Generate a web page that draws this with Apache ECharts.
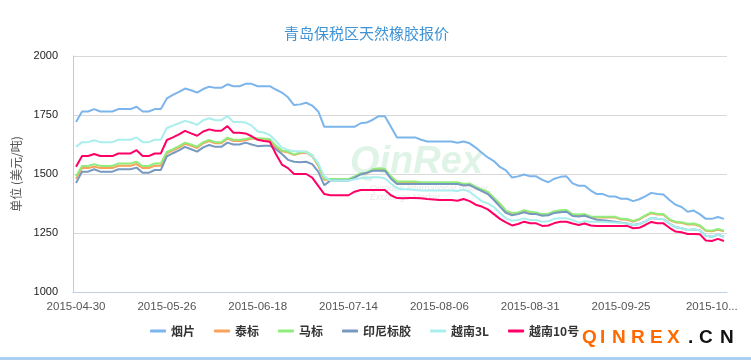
<!DOCTYPE html>
<html><head><meta charset="utf-8">
<script src="https://cdn.jsdelivr.net/npm/echarts@6/dist/echarts.min.js"></script>
<style>html,body{margin:0;padding:0;background:#fff}#c{width:751px;height:360px}</style>
</head><body><div id="c"></div>
<script>
const titleText = '青岛保税区天然橡胶报价';
const yAxisName = '单位 (美元/吨)';
const seriesNames = ['烟片','泰标','马标','印尼标胶','越南3L','越南10号'];
const seriesColors = ['#7cb5ec','#f7a35c','#90ed7d','#7798bf','#aaeeee','#ff0066'];
const yTicks = [1000, 2000, 250];

const dates = [
'2015-04-30','2015-05-04','2015-05-05','2015-05-06','2015-05-07','2015-05-08','2015-05-11','2015-05-12','2015-05-13','2015-05-14',
'2015-05-15','2015-05-18','2015-05-19','2015-05-20','2015-05-22','2015-05-26','2015-05-27','2015-05-28','2015-05-29','2015-06-01',
'2015-06-02','2015-06-03','2015-06-04','2015-06-05','2015-06-08','2015-06-09','2015-06-10','2015-06-11','2015-06-15','2015-06-16',
'2015-06-18','2015-06-19','2015-06-23','2015-06-24','2015-06-25','2015-06-26','2015-06-29','2015-06-30','2015-07-01','2015-07-02',
'2015-07-03','2015-07-06','2015-07-07','2015-07-08','2015-07-10','2015-07-14','2015-07-15','2015-07-16','2015-07-17','2015-07-20',
'2015-07-21','2015-07-22','2015-07-23','2015-07-24','2015-07-27','2015-07-28','2015-07-29','2015-07-30','2015-08-03','2015-08-04',
'2015-08-06','2015-08-07','2015-08-10','2015-08-11','2015-08-12','2015-08-13','2015-08-14','2015-08-17','2015-08-18','2015-08-19',
'2015-08-20','2015-08-24','2015-08-25','2015-08-26','2015-08-28','2015-08-31','2015-09-01','2015-09-02','2015-09-07','2015-09-08',
'2015-09-09','2015-09-10','2015-09-11','2015-09-14','2015-09-15','2015-09-16','2015-09-17','2015-09-21','2015-09-22','2015-09-24',
'2015-09-25','2015-09-28','2015-09-29','2015-09-30','2015-10-08','2015-10-09','2015-10-12','2015-10-13','2015-10-14','2015-10-15',
'2015-10-16','2015-10-19','2015-10-20','2015-10-21','2015-10-22','2015-10-23','2015-10-26','2015-10-27'];

const yanpian = [
1720,1765,1765,1775,1765,1765,1765,1775,1775,1775,
1785,1765,1765,1775,1775,1820,1835,1848,1862,1855,
1845,1860,1870,1865,1865,1880,1872,1872,1882,1882,
1872,1872,1872,1858,1845,1825,1792,1795,1802,1790,
1765,1700,1700,1700,1700,1700,1700,1715,1718,1730,
1745,1745,1700,1655,1655,1655,1655,1645,1638,1638,
1638,1638,1638,1632,1638,1630,1612,1590,1570,1555,
1530,1515,1485,1490,1498,1490,1490,1475,1465,1480,
1488,1490,1460,1450,1450,1430,1415,1415,1405,1405,
1395,1395,1385,1393,1405,1420,1415,1413,1390,1370,
1360,1340,1345,1330,1310,1310,1318,1310];

const taibiao = [
1480,1525,1525,1532,1525,1525,1525,1535,1535,1535,
1542,1525,1525,1535,1535,1588,1600,1612,1628,1620,
1610,1630,1640,1630,1630,1650,1640,1640,1643,1650,
1648,1646,1644,1612,1596,1592,1580,1588,1590,1575,
1535,1476,1476,1476,1476,1476,1488,1500,1503,1518,
1520,1518,1486,1465,1465,1465,1465,1462,1462,1462,
1462,1462,1462,1462,1455,1457,1442,1432,1422,1397,
1372,1342,1332,1334,1344,1337,1334,1327,1329,1339,
1343,1344,1327,1325,1327,1317,1316,1316,1316,1316,
1307,1306,1298,1307,1322,1334,1328,1327,1305,1295,
1293,1286,1287,1280,1259,1257,1264,1257];

const mabiao = [
1490,1534,1534,1542,1534,1534,1534,1545,1545,1545,
1552,1534,1534,1545,1545,1594,1605,1618,1633,1625,
1616,1635,1644,1635,1635,1654,1645,1645,1648,1654,
1652,1650,1648,1620,1600,1596,1582,1592,1595,1580,
1540,1480,1479,1479,1479,1479,1490,1502,1505,1520,
1524,1522,1490,1468,1468,1468,1468,1465,1465,1465,
1465,1465,1465,1465,1458,1460,1445,1435,1425,1400,
1375,1345,1335,1337,1347,1340,1337,1330,1332,1342,
1346,1347,1330,1328,1330,1320,1319,1319,1319,1319,
1310,1309,1301,1310,1325,1337,1331,1330,1308,1298,
1296,1289,1290,1283,1262,1260,1267,1260];

const yinni = [
1462,1510,1510,1520,1510,1510,1510,1520,1520,1520,
1527,1505,1505,1517,1517,1575,1588,1600,1615,1605,
1595,1613,1623,1615,1615,1633,1625,1625,1633,1625,
1618,1620,1620,1605,1585,1560,1552,1550,1552,1542,
1510,1452,1472,1472,1472,1472,1485,1498,1505,1514,
1514,1514,1480,1458,1458,1458,1458,1458,1458,1458,
1458,1458,1458,1458,1451,1453,1440,1428,1415,1390,
1362,1335,1325,1330,1338,1330,1330,1323,1325,1335,
1338,1340,1322,1320,1323,1314,1306,1304,1301,1298,
1294,1290,1284,1288,1298,1314,1310,1309,1290,1275,
1270,1263,1265,1262,1238,1234,1243,1234];

const yuenan3L = [
1615,1635,1635,1643,1635,1635,1635,1645,1645,1645,
1655,1635,1635,1645,1645,1695,1705,1715,1725,1718,
1708,1728,1736,1728,1728,1746,1720,1720,1718,1705,
1680,1676,1665,1640,1612,1602,1596,1596,1593,1578,
1545,1490,1472,1472,1472,1472,1478,1482,1484,1486,
1486,1482,1460,1440,1435,1435,1432,1430,1430,1430,
1430,1430,1430,1428,1434,1425,1405,1385,1375,1360,
1335,1312,1302,1305,1312,1305,1305,1298,1300,1310,
1312,1312,1305,1294,1300,1298,1298,1298,1296,1294,
1292,1290,1284,1288,1298,1314,1310,1309,1290,1275,
1270,1263,1265,1262,1238,1234,1243,1234];

const yuenan10 = [
1531,1576,1576,1585,1576,1576,1576,1587,1587,1587,
1601,1576,1576,1587,1587,1644,1655,1668,1683,1672,
1662,1680,1689,1683,1683,1703,1675,1675,1672,1660,
1645,1640,1637,1585,1540,1525,1500,1500,1500,1485,
1450,1415,1410,1410,1410,1410,1425,1432,1432,1432,
1432,1432,1410,1398,1397,1398,1398,1397,1394,1392,
1390,1390,1390,1387,1394,1385,1370,1362,1350,1330,
1310,1295,1282,1288,1298,1291,1291,1280,1282,1292,
1298,1298,1290,1284,1290,1282,1280,1280,1280,1280,
1280,1280,1270,1272,1284,1297,1291,1291,1272,1256,
1253,1246,1246,1245,1218,1216,1225,1216];

const allSeries = [yanpian, taibiao, mabiao, yinni, yuenan3L, yuenan10];

const chart = echarts.init(document.getElementById('c'), null, {renderer:'canvas'});
const logoLetters = ['Q','I','N','R','E','X','.','C','N'];
const logoX = [582,600,612,631,650,667,688,699,720];
const logoGraphics = logoLetters.map((ch, k) => ({
  type:'text', left: logoX[k], top: 328,
  style:{ text: ch, fill: k < 6 ? '#ff6a00' : '#111', font: 'bold 19px "Liberation Sans", Arial, sans-serif' }
}));

chart.setOption({
  animation:false,
  backgroundColor:'#fff',
  color: seriesColors,
  title:{ text: titleText, left: 279, top: 21,
    textStyle:{ color:'#3d93d6', fontSize:15, fontWeight:'normal', fontFamily:'"Noto Sans CJK SC", sans-serif' } },
  legend:{ left:145, top:320, itemWidth:16, itemHeight:3, itemGap:19, icon:'roundRect',
    textStyle:{ color:'#333', fontSize:12, fontWeight:'bold', fontFamily:'"Noto Sans CJK SC", sans-serif' },
    data: seriesNames },
  grid:{ left:73, right:24, top:56, bottom:68, containLabel:false, outerBoundsMode:'none' },
  xAxis:{ type:'category', data: dates, boundaryGap:true,
    axisLine:{ lineStyle:{ color:'#c0d0e0', width:1 } },
    axisTick:{ alignWithLabel:true, interval:14, length:6, lineStyle:{ color:'#c0d0e0' } },
    axisLabel:{ interval:14, color:'#555', fontSize:11.5, margin:9, fontFamily:'"Liberation Sans", Arial, sans-serif',
      formatter:(v, idx) => idx >= 100 ? v.slice(0,7) + '...' : v },
    splitLine:{ show:false } },
  yAxis:{ type:'value', min: yTicks[0], max: yTicks[1], interval: yTicks[2],
    name: yAxisName, nameLocation:'middle', nameGap:44, nameRotate:90,
    nameTextStyle:{ color:'#555', fontSize:12, fontFamily:'"Noto Sans CJK SC", sans-serif' },
    axisLine:{ show:true, lineStyle:{ color:'#c8c8c8' } },
    axisTick:{ show:false },
    axisLabel:{ color:'#222', fontSize:11, margin:15, fontFamily:'"Liberation Sans", Arial, sans-serif',
      formatter:(v) => String(v) },
    splitLine:{ lineStyle:{ color:'#d8d8d8' } } },
  series: seriesNames.map((n, k) => ({
    name:n, type:'line', data: allSeries[k], symbol:'none', showSymbol:false,
    lineStyle:{ width:2, color: seriesColors[k] }, itemStyle:{ color: seriesColors[k] }
  })),
  graphic: [
    { type:'text', left: 350, top: 144, z: -1,
      style:{ text:'QinRex', fill:'rgba(140,215,165,0.28)', font:'italic bold 38px "Liberation Sans", Arial, sans-serif' } },
    { type:'text', left: 370, top: 184, z: -1,
      style:{ text:'Qingdao International Rubber\nExchange Market', fill:'rgba(160,160,160,0.25)', font:'italic 9px "Liberation Sans", Arial, sans-serif' } },
    { type:'rect', left:0, top:357, shape:{ width:751, height:3 }, style:{ fill:'#a9cff2' } }
  ].concat(logoGraphics)
});
</script></body></html>
